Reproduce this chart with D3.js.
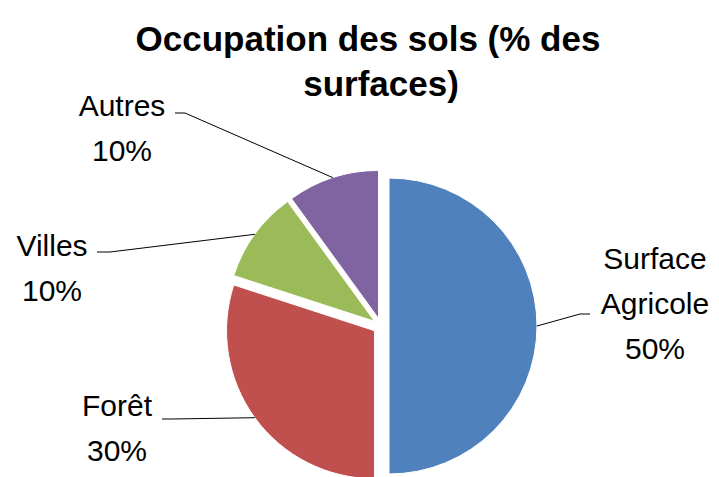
<!DOCTYPE html>
<html>
<head>
<meta charset="utf-8">
<script src="https://cdn.jsdelivr.net/npm/d3@7"></script>
<style>
  body { margin: 0; background: #fff; }
  svg { display: block; }
  text { font-family: "Liberation Sans", Arial, sans-serif; fill: #000; }
</style>
</head>
<body>
<div id="chart"></div>
<script>
// Data
const categories = ['Surface Agricole', 'Forêt', 'Villes', 'Autres'];
const values = [50, 30, 10, 10];
const colors = ['#4F81BD', '#C0504D', '#9BBB59', '#8064A2'];
const titleLines = ['Occupation des sols (% des', 'surfaces)'];

const width = 719, height = 477;
const cx = 381, cy = 326, radius = 148, explode = 8;

const svg = d3.select('#chart').append('svg')
    .attr('width', width)
    .attr('height', height);

// Title
svg.append('g').selectAll('text')
    .data(titleLines)
    .join('text')
    .attr('x', (d, i) => i === 0 ? 368 : 381)
    .attr('y', (d, i) => 51 + i * 45)
    .attr('text-anchor', 'middle')
    .style('font-weight', 'bold')
    .style('font-size', '35px')
    .text(d => d);

// Pie
const pie = d3.pie().sort(null).value(d => d.value);
const arc = d3.arc().innerRadius(0).outerRadius(radius);
const arcs = pie(categories.map((c, i) => ({ name: c, value: values[i], color: colors[i] })));

function offset(a) {
    const mid = (a.startAngle + a.endAngle) / 2;
    return [cx + explode * Math.sin(mid), cy - explode * Math.cos(mid)];
}

svg.append('g').selectAll('path')
    .data(arcs)
    .join('path')
    .attr('transform', d => `translate(${offset(d)})`)
    .attr('d', arc)
    .attr('fill', d => d.data.color)
    .attr('stroke', '#fff')
    .attr('stroke-width', 1);

// Label layout (elbow point, end point, text centre, first baseline)
const labelLayout = {
    'Surface Agricole': { elbow: [580, 314], end: [590, 314], x: 655, y: 269, lines: ['Surface', 'Agricole'] },
    'Forêt': { elbow: [172, 419], end: [162, 419], x: 117, y: 416, lines: ['Forêt'] },
    'Villes': { elbow: [110, 252], end: [97, 252], x: 52, y: 256, lines: ['Villes'] },
    'Autres': { elbow: [185, 113], end: [175, 113], x: 122, y: 116, lines: ['Autres'] }
};

const labels = svg.append('g');
arcs.forEach(a => {
    const L = labelLayout[a.data.name];
    const [ox, oy] = offset(a);
    const mid = (a.startAngle + a.endAngle) / 2;
    const sx = ox + radius * Math.sin(mid), sy = oy - radius * Math.cos(mid);

    labels.append('polyline')
        .attr('points', [[sx, sy], L.elbow, L.end].map(p => p.join(',')).join(' '))
        .attr('fill', 'none')
        .attr('stroke', '#000')
        .attr('stroke-width', 1);

    const pct = Math.round(a.data.value / d3.sum(values) * 100) + '%';
    labels.append('g').selectAll('text')
        .data(L.lines.concat([pct]))
        .join('text')
        .attr('x', L.x)
        .attr('y', (d, i) => L.y + i * 45)
        .attr('text-anchor', 'middle')
        .style('font-size', '30px')
        .text(d => d);
});
</script>
</body>
</html>
